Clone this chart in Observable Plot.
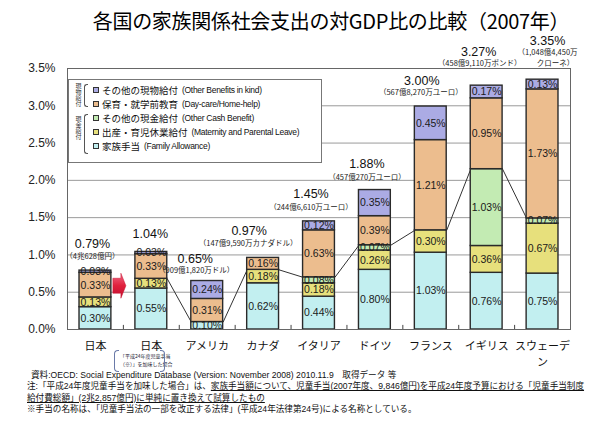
<!DOCTYPE html>
<html><head><meta charset="utf-8">
<script src="https://cdn.jsdelivr.net/npm/d3@7"></script>
<script src="https://cdn.jsdelivr.net/npm/@observablehq/plot@0.6"></script>
<style>
body{margin:0;width:600px;height:425px;position:relative;overflow:hidden;background:#fff;font-family:"Liberation Sans","Noto Sans CJK JP",sans-serif;color:#111}
#title{position:absolute;left:0;top:9px;width:662px;text-align:center;font:400 20px/24px "Noto Sans CJK JP";white-space:nowrap;letter-spacing:-0.3px;color:#000}
#chart{position:absolute;left:0;top:28px}
#legend{position:absolute;left:68px;top:79px;width:252px;height:82px;border:1px solid #777;background:#fff;overflow:hidden}
.row{position:absolute;left:24px;height:14px;display:flex;align-items:center;white-space:nowrap}
.sw{width:4px;height:4px;border:1px solid #333;margin-right:3px;flex:none}
.jp{font:9.5px/14px "Noto Sans CJK JP"}
.en{font:8.5px/14px "Liberation Sans Narrow","Liberation Sans";letter-spacing:-0.3px;margin-left:4px}
.vt{position:absolute;writing-mode:vertical-rl;font:6px/6px "Noto Sans CJK JP";color:#333}
.br{position:absolute;border:1px solid #555;border-right:none;width:3px;border-radius:3px 0 0 3px}
#notes{position:absolute;left:27px;top:370px;font:8.6px/11.4px "Liberation Sans","Noto Sans CJK JP";white-space:nowrap;color:#111}
#notes u{text-decoration-thickness:1px}
#anno{position:absolute;left:114px;top:350px;width:52px;height:22px}
#anno .t{position:absolute;left:6px;font:5px/6px "Noto Sans CJK JP";white-space:nowrap;color:#223}
.pl{position:absolute;top:0;height:20px;width:4px;border:1px solid #6a7aa8}
</style>
</head><body>
<div id="chart"></div>
<div id="title">各国の家族関係社会支出の対GDP比の比較（2007年）</div>
<div id="legend"></div>
<div id="anno">
  <div class="pl" style="left:0;border-right:none;border-radius:4px 0 0 4px"></div>
  <div class="t" style="top:3px">「平成24年度児童手当</div>
  <div class="t" style="top:11px">（※）」を加味した場合</div>
  <div class="pl" style="left:46px;border-left:none;border-radius:0 4px 4px 0"></div>
</div>
<div id="notes">
  <div style="padding-left:4px">資料:OECD: Social Expenditure Database (Version: November 2008) 2010.11.9　取得データ 等</div>
  <div>注:「平成24年度児童手当を加味した場合」は、<u>家族手当額について、児童手当(2007年度、9,846億円)を平成24年度予算における「児童手当制度</u></div>
  <div><u>給付費総額」(2兆2,857億円)に単純に置き換えて試算したもの</u></div>
  <div>※手当の名称は、「児童手当法の一部を改正する法律」(平成24年法律第24号)による名称としている。</div>
</div>
<script>
// ---- data ----
const countries = ["日本(2007)", "日本(平成24年度児童手当加味)", "アメリカ", "カナダ", "イタリア", "ドイツ", "フランス", "イギリス", "スウェーデン"];
const countryLabels = ["日本", "日本", "アメリカ", "カナダ", "イタリア", "ドイツ", "フランス", "イギリス", "スウェーデ\nン"];
const familyAllowance = [0.30, 0.55, 0.10, 0.62, 0.44, 0.80, 1.03, 0.76, 0.75];
const maternityLeave  = [0.13, 0.13, 0.00, 0.18, 0.18, 0.26, 0.30, 0.36, 0.67];
const otherCash       = [0.00, 0.00, 0.00, 0.00, 0.08, 0.07, 0.00, 1.03, 0.07];
const dayCare         = [0.33, 0.33, 0.31, 0.16, 0.63, 0.39, 1.21, 0.95, 1.73];
const otherInKind     = [0.03, 0.03, 0.24, 0.00, 0.12, 0.35, 0.45, 0.17, 0.13];
const totals = [0.79, 1.04, 0.65, 0.97, 1.45, 1.88, 3.00, 3.27, 3.35];
const amounts = [["（4兆628億円）"], [], ["（909億1,820万ドル）"], ["（147億9,590万カナダドル）"], ["（244億6,610万ユーロ）"], ["（457億270万ユーロ）"], ["（567億8,270万ユーロ）"], ["（458億9,110万ポンド）"], ["（1,048億4,450万", "クローネ）"]];
const seriesKeys = ["家族手当", "出産・育児休業給付", "その他の現金給付", "保育・就学前教育", "その他の現物給付"];
const seriesEnglish = ["Family Allowance", "Maternity and Parental Leave", "Other Cash Benefit", "Day-care/Home-help", "Other Benefits in kind"];
const seriesValues = [familyAllowance, maternityLeave, otherCash, dayCare, otherInKind];
const yTicks = [0, 0.5, 1.0, 1.5, 2.0, 2.5, 3.0, 3.5];

// ---- style / layout ----
const colors = ["#c2eff0", "#e7e07c", "#c3ebb3", "#ecbd8e", "#ababe4"];
const half = 0.285;               // half bar width in band units
const arrowLevel = 0.58;
const mainOff = [[-3,-27],[-1,-18],[-12,-22],[-14,-26],[-8,-27],[-8,-25],[-9,-25],[-8,-34],[5,-39]];
const subOff = [[[-3,-14]],[],[[-11,-10]],[[-15,-14]],[[-8,-14]],[[-8,-12]],[[-10,-13]],[[-7,-22]],[[5,-27],[13,-16]]];

// ---- derived tables ----
const segs = [];
const cashTop = [];
countries.forEach((c, i) => {
  let acc = 0;
  seriesValues.forEach((vals, k) => {
    const v = vals[i];
    if (v > 0) segs.push({i, key: seriesKeys[k], value: v, y1: acc, y2: acc + v});
    acc += v;
    if (k === 2) cashTop.push(acc);
  });
});
const links = [];
for (let i = 1; i < countries.length - 1; i++) links.push({a: i, b: i + 1, ya: cashTop[i], yb: cashTop[i + 1]});
const mids = d3.range(countries.length - 1).map(i => i + 0.5);
const xTicks = d3.range(countries.length);

const labelMarks = [];
countries.forEach((c, i) => {
  labelMarks.push(Plot.text([i], {x: d => d, y: d => totals[d], text: d => totals[d].toFixed(2) + "%",
    dx: mainOff[i][0], dy: mainOff[i][1], fontSize: 12.5, fontFamily: "Liberation Sans", fill: "#111"}));
  amounts[i].forEach((line, j) => {
    labelMarks.push(Plot.text([i], {x: d => d, y: d => totals[d], text: () => line,
      dx: subOff[i][j][0], dy: subOff[i][j][1], fontSize: 7.5, fontFamily: "Noto Sans CJK JP", fill: "#222"}));
  });
});

const arrowMark = (index, scales) => {
  const x0 = scales.x(0.5), y0 = scales.y(arrowLevel);
  const g = d3.create("svg:g");
  const grad = g.append("defs").append("linearGradient").attr("id", "arrowGrad").attr("x1", 0).attr("x2", 0).attr("y1", 0).attr("y2", 1);
  grad.append("stop").attr("offset", "0%").attr("stop-color", "#f06a86");
  grad.append("stop").attr("offset", "50%").attr("stop-color", "#e0203c");
  grad.append("stop").attr("offset", "100%").attr("stop-color", "#c01030");
  g.append("path")
    .attr("d", `M${x0-10},${y0-7.5}H${x0-2}V${y0-12.5}L${x0+3},${y0}L${x0-2},${y0+12.5}V${y0+7.5}H${x0-10}Z`)
    .attr("fill", "url(#arrowGrad)").attr("stroke", "#c8102e").attr("stroke-width", 0.5);
  return g.node();
};

const chart = Plot.plot({
  width: 600, height: 341,
  marginTop: 40, marginBottom: 40, marginLeft: 67, marginRight: 30,
  style: {background: "transparent", overflow: "visible"},
  x: {type: "linear", domain: [-0.5, countries.length - 0.5], axis: null, label: null},
  y: {domain: [0, 3.5], axis: null, label: null},
  color: {domain: seriesKeys, range: colors},
  marks: [
    Plot.gridY(yTicks, {stroke: "#9a9a9a", strokeOpacity: 1, strokeWidth: 1}),
    Plot.ruleX(mids, {y1: 0, y2: 0.055, stroke: "#444"}),
    Plot.link(links, {x1: d => d.a + half, x2: d => d.b - half, y1: "ya", y2: "yb", stroke: "#333", strokeWidth: 1}),
    Plot.rect(segs, {x1: d => d.i - half, x2: d => d.i + half, y1: "y1", y2: "y2", fill: "key", stroke: "#2a2a2a", strokeWidth: 1.4}),
    Plot.text(segs, {x: "i", y: d => (d.y1 + d.y2) / 2, text: d => d.value.toFixed(2) + "%",
      fontSize: 10.5, fontFamily: "Liberation Sans Narrow, Liberation Sans", fill: "#1a1a1a"}),
    arrowMark,
    ...labelMarks,
    Plot.frame({stroke: "#666"}),
    Plot.axisY(yTicks, {tickSize: 0, tickPadding: 12, tickFormat: d => d.toFixed(1) + "%", fontSize: 12, fontFamily: "Liberation Sans", fill: "#222", label: null}),
    Plot.axisX(xTicks, {tickSize: 0, tickPadding: 9, tickFormat: i => countryLabels[i], fontSize: 11, fontFamily: "Noto Sans CJK JP", fill: "#111", lineHeight: 1.45, label: null})
  ]
});
document.getElementById("chart").append(chart);

// ---- legend (top-most series first) ----
const legend = document.getElementById("legend");
const rowTops = [3, 17, 31, 45, 59];
[4, 3, 2, 1, 0].forEach((k, r) => {
  const row = document.createElement("div");
  row.className = "row";
  row.style.top = rowTops[r] + "px";
  row.innerHTML = `<span class="sw" style="background:${colors[k]}"></span><span class="jp">${seriesKeys[k]}</span><span class="en">(${seriesEnglish[k]})</span>`;
  legend.append(row);
});
legend.insertAdjacentHTML("beforeend",
  `<div class="vt" style="left:6px;top:3px">現物給付</div><div class="br" style="left:15px;top:4px;height:21px"></div>` +
  `<div class="vt" style="left:6px;top:36px">現金給付</div><div class="br" style="left:15px;top:34px;height:38px"></div>`);
</script>
</body></html>
